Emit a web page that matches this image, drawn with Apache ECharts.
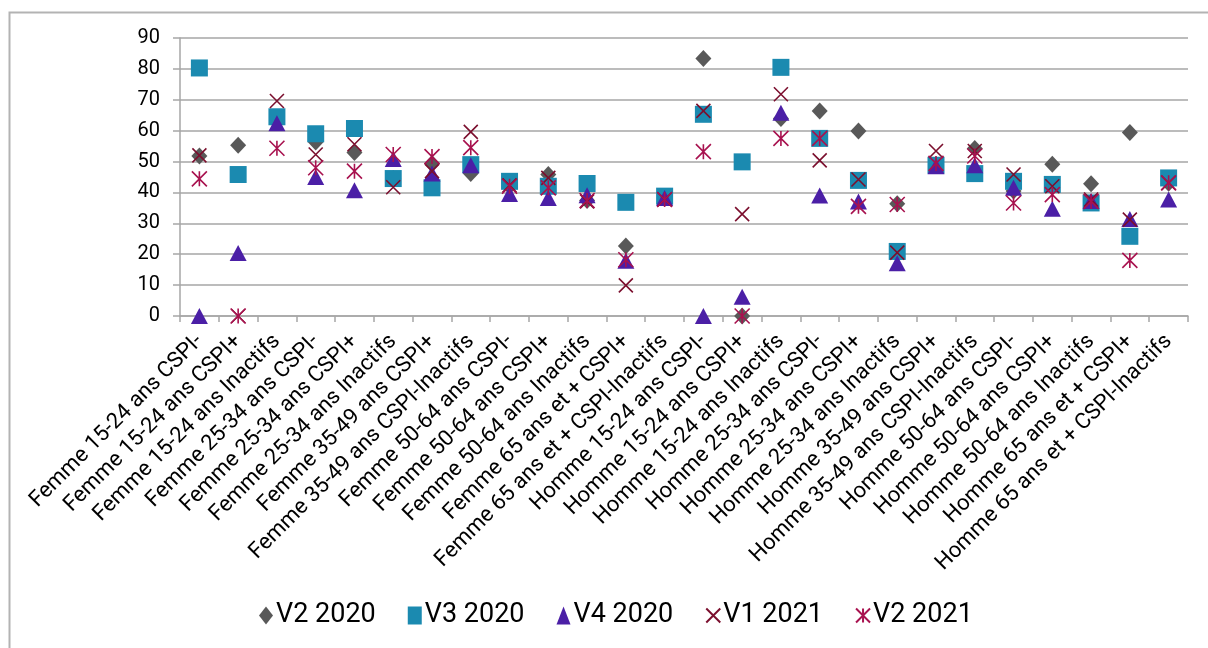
<!DOCTYPE html>
<html>
<head>
<meta charset="utf-8">
<script src="https://cdn.jsdelivr.net/npm/echarts@6/dist/echarts.min.js"></script>
<style>
html,body{margin:0;padding:0;background:#fff;}
#chart{width:1208px;height:648px;}
</style>
</head>
<body>
<div id="chart"></div>
<script>
const categories = [
  "Femme 15-24 ans CSPI-", "Femme 15-24 ans CSPI+", "Femme 15-24 ans Inactifs",
  "Femme 25-34 ans CSPI-", "Femme 25-34 ans CSPI+", "Femme 25-34 ans Inactifs",
  "Femme 35-49 ans CSPI+", "Femme 35-49 ans CSPI-Inactifs",
  "Femme 50-64 ans CSPI-", "Femme 50-64 ans CSPI+", "Femme 50-64 ans Inactifs",
  "Femme 65 ans et + CSPI+", "Femme 65 ans et + CSPI-Inactifs",
  "Homme 15-24 ans CSPI-", "Homme 15-24 ans CSPI+", "Homme 15-24 ans Inactifs",
  "Homme 25-34 ans CSPI-", "Homme 25-34 ans CSPI+", "Homme 25-34 ans Inactifs",
  "Homme 35-49 ans CSPI+", "Homme 35-49 ans CSPI-Inactifs",
  "Homme 50-64 ans CSPI-", "Homme 50-64 ans CSPI+", "Homme 50-64 ans Inactifs",
  "Homme 65 ans et + CSPI+", "Homme 65 ans et + CSPI-Inactifs"
];
const v2_2020 = [51.8, 55.3, 63.5, 56.3, 52.9, 44.5, 49.4, 46.1, 42.0, 45.8, 37.4, 22.7, 38.2, 83.4, 0, 63.9, 66.4, 59.9, 36.3, 49.0, 54.2, 40.5, 49.1, 42.8, 59.4, 43.0];
const v3_2020 = [80.3, 45.8, 64.5, 59.0, 60.7, 44.5, 41.5, 49.0, 43.6, 42.0, 42.9, 36.8, 38.8, 65.3, 49.9, 80.5, 57.5, 43.9, 20.9, 48.8, 46.1, 43.6, 42.6, 36.6, 25.8, 44.7];
const v4_2020 = [0, 20.4, 62.4, 45.0, 40.7, 50.8, 46.1, 48.8, 39.5, 38.2, 39.1, 17.9, 38.2, 0, 6.2, 65.8, 39.0, 37.1, 17.1, 48.5, 48.8, 41.5, 34.7, 37.2, 31.4, 37.7];
const v1_2021 = [52.0, 0, 69.6, 52.3, 55.6, 41.7, 46.9, 59.6, 42.3, 44.7, 37.1, 9.9, 37.7, 66.4, 33.0, 71.8, 50.4, 44.2, 20.5, 53.4, 53.4, 45.8, 42.0, 37.7, 31.2, 43.1];
const v2_2021 = [44.4, 0, 54.3, 48.0, 46.9, 52.3, 51.6, 54.5, 42.0, 41.5, 37.4, 18.2, 37.7, 53.2, 0, 57.5, 57.5, 35.5, 36.1, 49.4, 51.8, 36.6, 39.3, 37.1, 18.0, 43.1];
const yTicks = [0, 10, 20, 30, 40, 50, 60, 70, 80, 90];
const seriesNames = ["V2 2020", "V3 2020", "V4 2020", "V1 2021", "V2 2021"];

const PATH_X = 'path://M0 0 L10 10 M10 0 L0 10';
const PATH_AST = 'path://M0 0 L10 10 M10 0 L0 10 M5 0 L5 10';

const chart = echarts.init(document.getElementById('chart'), null, {renderer: 'canvas'});
const font = 'Roboto, "Liberation Sans", sans-serif';

const option = {
  backgroundColor: '#ffffff',
  animation: false,
  graphic: [{
    type: 'rect', left: 7, top: 10, silent: true, z: -1,
    shape: {width: 1400, height: 900},
    style: {fill: 'none', stroke: '#b3b3b3', lineWidth: 2}
  }],
  grid: {left: 180, right: 20, top: 38, bottom: 332, containLabel: false},
  legend: {
    top: 602, left: 259, itemGap: 32, itemWidth: 14, itemHeight: 18, padding: 0,
    textStyle: {fontFamily: font, fontSize: 27, color: '#000', padding: [0, 0, 0, -2]},
    data: seriesNames
  },
  xAxis: {
    type: 'category', data: categories, boundaryGap: true,
    axisLine: {lineStyle: {color: '#a6a6a6', width: 1.5}},
    axisTick: {show: true, length: 6, lineStyle: {color: '#a6a6a6', width: 1.5}},
    axisLabel: {interval: 0, rotate: 45, fontFamily: font, fontSize: 22, color: '#000', margin: 22},
    splitLine: {show: false}
  },
  yAxis: {
    type: 'value', min: yTicks[0], max: yTicks[yTicks.length - 1], interval: 10,
    axisLine: {show: true, lineStyle: {color: '#a6a6a6', width: 1.5}},
    axisTick: {show: true, length: 7, lineStyle: {color: '#a6a6a6', width: 1.5}},
    axisLabel: {fontFamily: font, fontSize: 20, color: '#000', margin: 20},
    splitLine: {show: true, lineStyle: {color: '#a6a6a6', width: 1.5}}
  },
  series: [
    {name: seriesNames[0], type: 'scatter', data: v2_2020, symbol: 'diamond', symbolSize: [16, 17],
     itemStyle: {color: '#595959', opacity: 1}},
    {name: seriesNames[1], type: 'scatter', data: v3_2020, symbol: 'rect', symbolSize: 17,
     itemStyle: {color: '#1b8ab0', opacity: 1}},
    {name: seriesNames[2], type: 'scatter', data: v4_2020, symbol: 'triangle', symbolSize: [17, 16],
     itemStyle: {color: '#4b1fa6', opacity: 1}},
    {name: seriesNames[3], type: 'scatter', data: v1_2021, symbol: PATH_X, symbolSize: 14,
     itemStyle: {color: 'transparent', borderColor: '#7b0f2e', borderWidth: 1.6, opacity: 1}},
    {name: seriesNames[4], type: 'scatter', data: v2_2021, symbol: PATH_AST, symbolSize: 15,
     itemStyle: {color: 'transparent', borderColor: '#a8124f', borderWidth: 1.6, opacity: 1}}
  ]
};
chart.setOption(option);
</script>
</body>
</html>
